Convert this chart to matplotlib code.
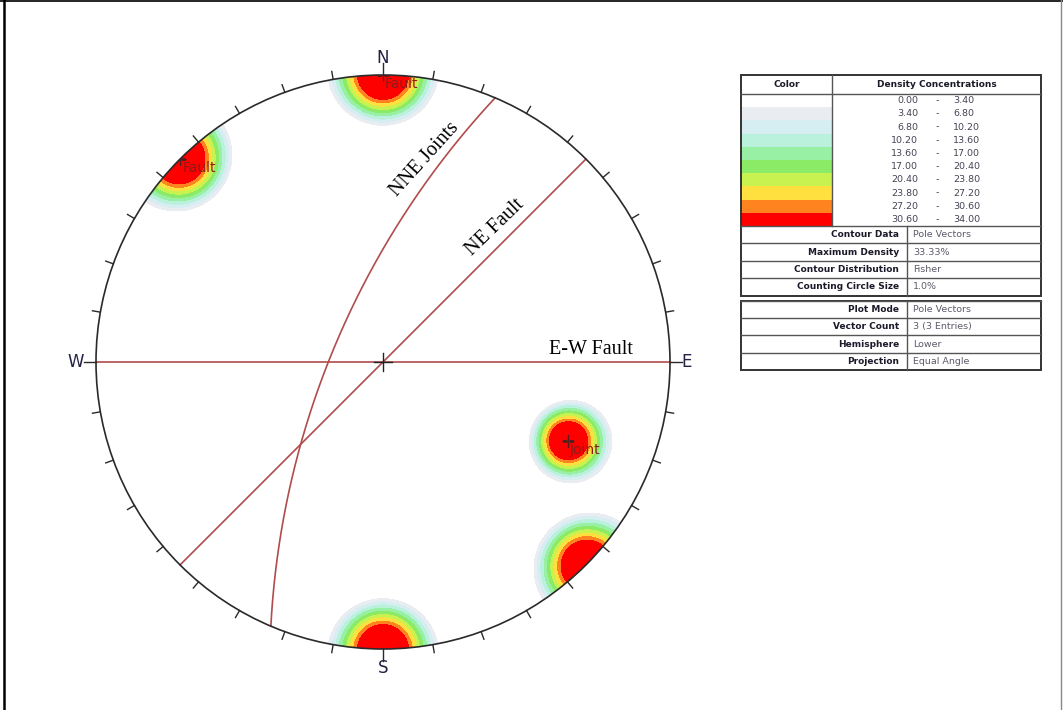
import numpy as np
import matplotlib
matplotlib.use("Agg")
import matplotlib.pyplot as plt
from matplotlib.patches import Circle, Rectangle

# planes, right-hand-rule strike / dip
plane_names = ["E-W Fault", "NE Fault", "NNE Joints"]
plane_strikes = [90, 45, 203]
plane_dips = [90, 90, 70]
pole_labels = ["Fault", "Fault", "Joint"]

# density contour bins (%) and their colours
density_levels = [0.00, 3.40, 6.80, 10.20, 13.60, 17.00, 20.40, 23.80, 27.20, 30.60, 34.00]
density_colors = ["#ffffff", "#e9edf1", "#d6eef1", "#b9f1dd", "#97f0a3", "#8ceb66",
                  "#c8f250", "#ffe03e", "#ff8420", "#ff0000"]

contour_rows = ["Contour Data", "Maximum Density", "Contour Distribution", "Counting Circle Size"]
contour_vals = ["Pole Vectors", "33.33%", "Fisher", "1.0%"]
plot_rows = ["Plot Mode", "Vector Count", "Hemisphere", "Projection"]
plot_vals = ["Pole Vectors", "3 (3 Entries)", "Lower", "Equal Angle"]

counting_circle = 0.01   # fraction of hemisphere area


def project(n, e, d):
    """equal angle, lower hemisphere -> x (east), y (north)"""
    flip = d < 0
    n, e, d = np.where(flip, -n, n), np.where(flip, -e, e), np.abs(d)
    plunge = np.arcsin(np.clip(d, -1, 1))
    rho = np.tan((np.pi / 2 - plunge) / 2)
    trend = np.arctan2(e, n)
    return rho * np.sin(trend), rho * np.cos(trend)


def great_circle(strike, dip, n=400):
    s, dp = np.radians(strike), np.radians(dip)
    dd = s + np.pi / 2
    t = np.linspace(0, np.pi, n)
    nn = np.cos(t) * np.cos(s) + np.sin(t) * np.cos(dp) * np.cos(dd)
    ee = np.cos(t) * np.sin(s) + np.sin(t) * np.cos(dp) * np.sin(dd)
    zz = np.sin(t) * np.sin(dp)
    return project(nn, ee, zz)


# poles: trend = strike - 90, plunge = 90 - dip
pole_trend = np.radians((np.array(plane_strikes) - 90) % 360)
pole_plunge = np.radians(90 - np.array(plane_dips))
pole_vec = np.stack([np.cos(pole_plunge) * np.cos(pole_trend),
                     np.cos(pole_plunge) * np.sin(pole_trend),
                     np.sin(pole_plunge)], axis=1)

# density grid
g = np.linspace(-1.0, 1.0, 801)
X, Y = np.meshgrid(g, g)
rho = np.hypot(X, Y)
phi = 2 * np.arctan(rho)
tr = np.arctan2(X, Y)
gv = np.stack([np.sin(phi) * np.cos(tr), np.sin(phi) * np.sin(tr), np.cos(phi)], axis=-1)

# counting cone half-angle, edge smeared out linearly
alpha = np.degrees(np.arccos(1 - counting_circle))
half = 3.6
dens = np.zeros_like(X)
for v in pole_vec:
    ang = np.degrees(np.arccos(np.clip(np.abs(gv @ v), 0, 1)))
    w = np.clip(((alpha + half) - ang) / (2 * half), 0, 1)
    dens += 100.0 / len(pole_vec) * w
dens[rho > 1.0] = np.nan

fig = plt.figure(figsize=(10.63, 7.10), dpi=100)
W, H = 1063, 710
cx, cy, R = 383, 362, 287
ax = fig.add_axes([0, 0, 1, 1])
ax.set_xlim(-cx / R, (W - cx) / R)
ax.set_ylim(-(H - cy) / R, cy / R)
ax.axis("off")

prim = Circle((0, 0), 1.0, transform=ax.transData)
cs = ax.contourf(X, Y, dens, levels=density_levels, colors=density_colors, zorder=1)
cs.set_clip_path(prim)

# primitive circle and ticks
ax.add_patch(Circle((0, 0), 1.0, fill=False, ec="#2a2a2a", lw=1.2, zorder=5))
for az in range(0, 360, 10):
    a = np.radians(az)
    L = 0.042 if az % 90 == 0 else 0.028
    ax.plot([np.sin(a), np.sin(a) * (1 + L)], [np.cos(a), np.cos(a) * (1 + L)],
            color="#2a2a2a", lw=1.0, zorder=5)
for lab, az, r in [("N", 0, 1.058), ("E", 90, 1.058), ("S", 180, 1.066), ("W", 270, 1.07)]:
    a = np.radians(az)
    ax.text(np.sin(a) * r, np.cos(a) * r, lab, ha="center", va="center",
            fontsize=12, color="#222244", zorder=6)

# centre cross
ax.plot([-0.03, 0.03], [0, 0], color="#222222", lw=1.0, zorder=6)
ax.plot([0, 0], [-0.03, 0.03], color="#222222", lw=1.0, zorder=6)

# planes
for s, d in zip(plane_strikes, plane_dips):
    x, y = great_circle(s, d)
    ax.plot(x, y, color="#b04c4c", lw=1.2, zorder=4)

plane_text_pos = [(0.725, 0.045, 0), (0.390, 0.470, 44), (0.146, 0.706, 48)]
for name, (tx, ty, rot) in zip(plane_names, plane_text_pos):
    ax.text(tx, ty, name, rotation=rot, ha="center", va="center", fontsize=14.5,
            family="Liberation Serif", color="black", zorder=6)

# pole markers and labels
px, py = project(pole_vec[:, 0], pole_vec[:, 1], pole_vec[:, 2])
for x, y, lab in zip(px, py, pole_labels):
    m, = ax.plot(x, y, marker="+", ms=9, mew=1.0, color="#5a1c1c", zorder=6)
    m.set_clip_path(Circle((0, 0), 1.0, transform=ax.transData))
    ax.annotate(lab, (x, y), xytext=(1.5, -6.5), textcoords="offset points",
                ha="left", va="center", fontsize=10, color="#8a1c1c", zorder=7)

# legend tables in pixel coordinates
lx = fig.add_axes([0, 0, 1, 1])
lx.set_xlim(0, W)
lx.set_ylim(H, 0)
lx.axis("off")
lx.patch.set_visible(False)

x0, x1, xc, xd = 741, 1041, 832, 907
dark, mid = "#333333", "#555555"
lab_col, val_col = "#1a1a2a", "#5c5c6c"

# header
top, hh = 75, 19
lx.text((x0 + xc) / 2, top + hh / 2, "Color", ha="center", va="center",
        fontsize=6.5, weight="bold", color=lab_col)
lx.text((xc + x1) / 2, top + hh / 2, "Density Concentrations", ha="center",
        va="center", fontsize=6.5, weight="bold", color=lab_col)
y = top + hh
rh = 13.2
for i, c in enumerate(density_colors):
    lx.add_patch(Rectangle((x0, y + i * rh), xc - x0, rh, fc=c, ec="none"))
    yc = y + (i + 0.5) * rh
    lx.text(918, yc, f"{density_levels[i]:.2f}", ha="right", va="center",
            fontsize=6.8, color="#444455")
    lx.text(937, yc, "-", ha="center", va="center", fontsize=6.8, color="#444455")
    lx.text(953, yc, f"{density_levels[i + 1]:.2f}", ha="left", va="center",
            fontsize=6.8, color="#444455")
cbot = y + len(density_colors) * rh
lx.plot([x0, x1], [y, y], color=mid, lw=1.0)
lx.plot([xc, xc], [top, cbot], color=mid, lw=1.0)


def info_block(ytop, rows, vals, rhh=17.4):
    for j, (r, v) in enumerate(zip(rows, vals)):
        yy = ytop + j * rhh
        lx.plot([x0, x1], [yy, yy], color=mid, lw=1.0)
        lx.text(xd - 8, yy + rhh / 2, r, ha="right", va="center", fontsize=6.5,
                weight="bold", color=lab_col)
        lx.text(xd + 6, yy + rhh / 2, v, ha="left", va="center", fontsize=6.8,
                color=val_col)
    yb = ytop + len(rows) * rhh
    lx.plot([xd, xd], [ytop, yb], color=mid, lw=1.0)
    return yb


b1 = info_block(cbot, contour_rows, contour_vals)
lx.add_patch(Rectangle((x0, top), x1 - x0, b1 - top, fill=False, ec=dark, lw=1.4))
t2 = b1 + 5
b2 = info_block(t2, plot_rows, plot_vals)
lx.add_patch(Rectangle((x0, t2), x1 - x0, b2 - t2, fill=False, ec=dark, lw=1.4))

# page frame
lx.plot([3.5, 3.5], [0, H], color="black", lw=1.8)
lx.plot([0, W], [0.6, 0.6], color="black", lw=1.2)
lx.plot([1060.5, 1060.5], [0, H], color="#888888", lw=1.0)

fig.savefig("out.png", dpi=100)
